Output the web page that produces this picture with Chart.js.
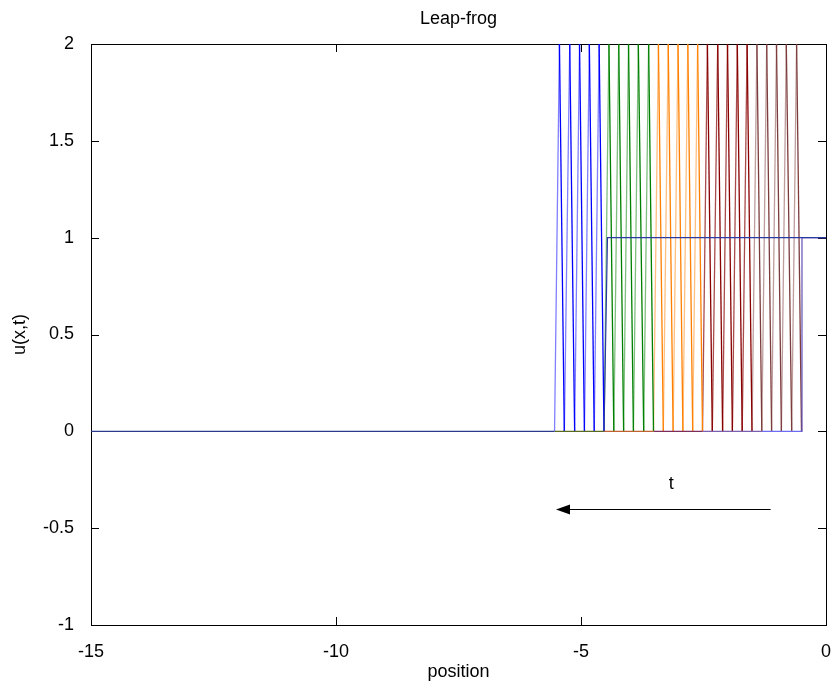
<!DOCTYPE html>
<html><head><meta charset="utf-8">
<script src="https://cdn.jsdelivr.net/npm/chart.js@4.4.1/dist/chart.umd.min.js"></script>
<style>html,body{margin:0;padding:0;background:#fff}</style>
</head><body>
<canvas id="c" width="839" height="688"></canvas>
<script>
// ---- text ----
const titleText = 'Leap-frog';
const xLabel = 'position';
const yLabel = 'u(x,t)';
const arrowLabel = 't';
// ---- ticks ----
const xTicks = [-15, -10, -5, 0];
const yTicks = [-1, -0.5, 0, 0.5, 1, 1.5, 2];
// ---- grid positions of the oscillating region ----
const gridX = [-5.54,-5.44,-5.34,-5.23,-5.13,-5.03,-4.93,-4.83,-4.73,-4.63,
               -4.53,-4.43,-4.33,-4.23,-4.13,-4.03,-3.93,-3.83,-3.72,-3.62,
               -3.52,-3.42,-3.32,-3.22,-3.12,-3.02,-2.92,-2.82,-2.72,-2.62,
               -2.52,-2.42,-2.32,-2.21,-2.11,-2.01,-1.91,-1.81,-1.71,-1.61,
               -1.51,-1.41,-1.31,-1.21,-1.11,-1.01,-0.91,-0.81,-0.70,-0.60,-0.50];
const zigzagY = [0,2,0,2,0,2,0,2,0,2,
                 0,2,0,2,0,2,0,2,0,2,
                 0,2,0,2,0,2,0,2,0,2,
                 0,2,0,2,0,2,0,2,0,2,
                 0,2,0,2,0,2,0,2,0,2,0];
// index ranges (into gridX) of each time snapshot
const snapshotFirst = [0, 10, 20, 30, 40];
const snapshotLast  = [10, 20, 30, 40, 50];
// zero level pieces
const baselineX = [-15, -5.54, -4.53, -3.52, -2.52, -1.31, -0.50];
const baselineY = [0, 0, 0, 0, 0, 0, 0];
// exact (final) step and initial step
const exactX = [-4.53, -4.46, 0];
const exactY = [0, 1, 1];
const initialX = [-0.51, -0.49, 0];
const initialY = [0, 1, 1];
// annotation arrow
const arrowX = [-1.13, -5.51];
const arrowY = [-0.40, -0.40];
const arrowLabelPos = [-3.16, -0.27];

// ---- styles ----
const FONT = 'Liberation Sans, Arial, sans-serif';
const FS = 18;
const snapStrong = ['#0000ff', '#008000', '#ff8000', '#880000', '#7d3c3c'];
const snapLight  = ['rgba(0,0,255,0.5)', 'rgba(0,128,0,0.5)', 'rgba(255,128,0,0.5)', 'rgba(136,0,0,0.7)', 'rgba(125,60,60,0.5)'];
const baselineColors = ['#2b3a8e', '#5b6b1e', '#c0622f', '#7b2d5c', '#7a5eb0', '#6c6cf0'];

const pts = (xs, ys) => xs.map((x, i) => ({x: x, y: ys[i]}));
const datasets = [];
datasets.push({data: pts(exactX, exactY), borderColor: '#2a3aa0', borderWidth: 1.2});
for (let i = 0; i < baselineX.length - 1; i++) {
  datasets.push({data: pts(baselineX.slice(i, i + 2), baselineY.slice(i, i + 2)),
                 borderColor: baselineColors[i], borderWidth: 1.3});
}
datasets.push({data: pts(initialX, initialY), borderColor: '#6050b8', borderWidth: 1.2});
for (let k = 0; k < snapshotFirst.length; k++) {
  const xs = gridX.slice(snapshotFirst[k], snapshotLast[k] + 1);
  const ys = zigzagY.slice(snapshotFirst[k], snapshotLast[k] + 1);
  datasets.push({
    data: pts(xs, ys), borderColor: snapStrong[k], borderWidth: 1.3,
    segment: {borderColor: c => c.p1.parsed.y > c.p0.parsed.y ? snapLight[k] : snapStrong[k]}
  });
}

const framePlugin = {
  id: 'frame',
  beforeDatasetsDraw(chart) {
    const {ctx, chartArea: a, scales: {x, y}} = chart;
    ctx.save();
    ctx.strokeStyle = '#000';
    ctx.lineWidth = 1;
    ctx.beginPath();
    const L = 8;
    xTicks.forEach(v => {
      const px = Math.round(x.getPixelForValue(v)) + 0.5;
      ctx.moveTo(px, a.bottom); ctx.lineTo(px, a.bottom - L);
      ctx.moveTo(px, a.top); ctx.lineTo(px, a.top + L);
    });
    yTicks.forEach(v => {
      const py = Math.round(y.getPixelForValue(v)) + 0.5;
      ctx.moveTo(a.left, py); ctx.lineTo(a.left + L, py);
      ctx.moveTo(a.right, py); ctx.lineTo(a.right - L, py);
    });
    ctx.stroke();
    ctx.strokeRect(Math.round(a.left) + 0.5, Math.round(a.top) + 0.5,
                   Math.round(a.right - a.left), Math.round(a.bottom - a.top));
    ctx.restore();
  },
  afterDraw(chart) {
    const {ctx, chartArea: a, scales: {x, y}} = chart;
    ctx.save();
    ctx.strokeStyle = '#000';
    ctx.fillStyle = '#000';
    ctx.lineWidth = 1;
    // title centred over the plot area
    ctx.font = FS + 'px ' + FONT;
    ctx.textAlign = 'center'; ctx.textBaseline = 'middle';
    ctx.fillText(titleText, (a.left + a.right) / 2, 19);
    // annotation arrow
    const x0 = x.getPixelForValue(arrowX[0]), x1 = x.getPixelForValue(arrowX[1]);
    const y0 = Math.round(y.getPixelForValue(arrowY[0])) + 0.5;
    ctx.beginPath();
    ctx.moveTo(x0, y0); ctx.lineTo(x1 + 10, y0); ctx.stroke();
    ctx.beginPath();
    ctx.moveTo(x1, y0); ctx.lineTo(x1 + 14, y0 - 5); ctx.lineTo(x1 + 14, y0 + 5); ctx.closePath();
    ctx.fill();
    ctx.fillText(arrowLabel, x.getPixelForValue(arrowLabelPos[0]), y.getPixelForValue(arrowLabelPos[1]));
    ctx.restore();
  }
};

new Chart(document.getElementById('c'), {
  type: 'line',
  data: {datasets},
  options: {
    responsive: false,
    animation: false,
    layout: {padding: {left: 0, right: 12, top: 44, bottom: 0}},
    elements: {point: {radius: 0}, line: {tension: 0}},
    plugins: {
      legend: {display: false},
      tooltip: {enabled: false},
      title: {display: false}
    },
    scales: {
      x: {
        type: 'linear', min: -15, max: 0,
        afterBuildTicks: s => { s.ticks = xTicks.map(v => ({value: v})); },
        afterFit: s => { s.height = 63; },
        ticks: {color: '#000', font: {family: FONT, size: FS}, padding: 8, maxRotation: 0,
                callback: v => String(v)},
        grid: {display: false}, border: {display: false},
        title: {display: true, text: xLabel, color: '#000', font: {family: FONT, size: FS}, padding: {top: 0, bottom: 5.2}}
      },
      y: {
        type: 'linear', min: -1, max: 2,
        afterBuildTicks: s => { s.ticks = yTicks.map(v => ({value: v})); },
        afterFit: s => { s.width = 91; },
        ticks: {color: '#000', font: {family: FONT, size: FS}, padding: 9, callback: v => String(v)},
        grid: {display: false}, border: {display: false},
        title: {display: true, text: yLabel, color: '#000', font: {family: FONT, size: FS}, padding: {top: 9.2, bottom: 0}}
      }
    }
  },
  plugins: [framePlugin]
});
</script>
</body></html>
